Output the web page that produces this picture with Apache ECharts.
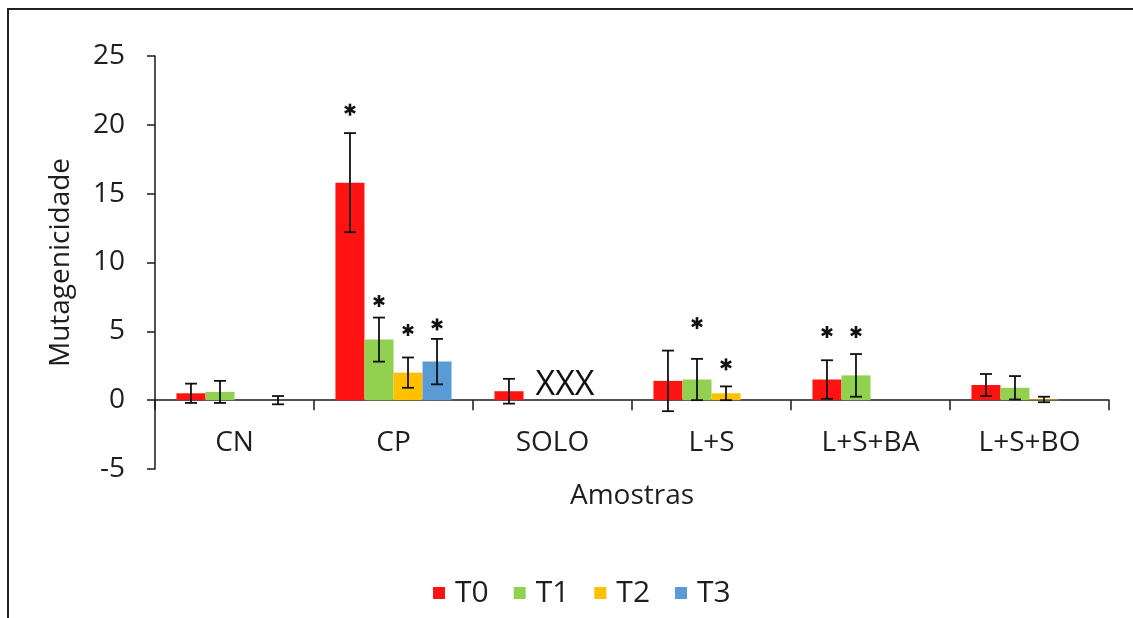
<!DOCTYPE html>
<html>
<head>
<meta charset="utf-8">
<script src="https://cdn.jsdelivr.net/npm/echarts@6/dist/echarts.min.js"></script>
<style>
html,body{margin:0;padding:0;background:#fff;}
#chart{width:1133px;height:618px;}
</style>
</head>
<body>
<div id="chart"></div>
<script>
// ---- data ----
const categories = ['CN', 'CP', 'SOLO', 'L+S', 'L+S+BA', 'L+S+BO'];
const seriesNames = ['T0', 'T1', 'T2', 'T3'];
const T0 = [0.5, 15.8, 0.65, 1.4, 1.5, 1.1];
const T1 = [0.6, 4.4, null, 1.5, 1.8, 0.9];
const T2 = [null, 2.0, null, 0.5, null, 0.05];
const T3 = [0, 2.8, null, null, null, null];
const T0err = [0.7, 3.6, 0.9, 2.2, 1.4, 0.8];
const T1err = [0.8, 1.6, null, 1.5, 1.55, 0.85];
const T2err = [null, 1.1, null, 0.5, null, 0.2];
const T3err = [0.3, 1.65, null, null, null, null];
// significance asterisk heights (value units)
const T0star = [null, 21.1, null, null, 4.95, null];
const T1star = [null, 7.2, null, 5.6, 4.95, null];
const T2star = [null, 5.1, null, 2.6, null, null];
const T3star = [null, 5.5, null, null, null, null];
const missingCategory = 'SOLO';
const missingText = 'XXX';
const yTicks = { min: -5, max: 25, interval: 5 };
const xName = 'Amostras';
const yName = 'Mutagenicidade';

// ---- styling ----
const colors = ['#ff1212', '#92d050', '#ffc000', '#5b9bd5'];
const FONT = '"Open Sans", sans-serif';
const TXT = '#1e1e1e';
const GAP = 0.27;

const values = [T0, T1, T2, T3];
const errs = [T0err, T1err, T2err, T3err];
const stars = [T0star, T1star, T2star, T3star];

const errData = [];
const starData = [];
for (let t = 0; t < 4; t++) {
  for (let c = 0; c < categories.length; c++) {
    if (values[t][c] != null && errs[t][c] != null) {
      errData.push([c, t, values[t][c], errs[t][c]]);
    }
    if (stars[t][c] != null) starData.push([c, t, stars[t][c]]);
  }
}

function offsetX(api, t) {
  const band = api.size([1, 0])[0];
  const bw = band * (1 - GAP) / 4;
  return (t - 1.5) * bw;
}

const chart = echarts.init(document.getElementById('chart'));
const barSeries = seriesNames.map((n, i) => ({
  name: n,
  type: 'bar',
  data: values[i],
  barGap: '0%',
  barCategoryGap: (GAP * 100) + '%',
  itemStyle: { color: colors[i] },
  z: 2
}));

const option = {
  animation: false,
  textStyle: { fontFamily: FONT, color: TXT },
  legend: {
    data: seriesNames,
    bottom: 5,
    left: 428,
    itemWidth: 12,
    itemHeight: 12,
    itemGap: 25,
    icon: 'rect',
    textStyle: { fontSize: 30, color: TXT, fontFamily: FONT, padding: [0, 0, 0, 5] }
  },
  grid: { left: 155, right: 24, top: 56, bottom: 149, containLabel: false },
  xAxis: {
    type: 'category',
    data: categories,
    name: xName,
    nameLocation: 'middle',
    nameGap: 13,
    nameTextStyle: { fontSize: 28, color: TXT, fontFamily: FONT },
    axisLine: { onZero: true, lineStyle: { color: '#1a1a1a', width: 1.5 } },
    axisTick: { show: true, length: 10, lineStyle: { color: '#1a1a1a', width: 1.5 } },
    axisLabel: { fontSize: 28, color: TXT, margin: -40, fontFamily: FONT },
    splitLine: { show: false }
  },
  yAxis: {
    type: 'value',
    min: yTicks.min,
    max: yTicks.max,
    interval: yTicks.interval,
    name: yName,
    nameLocation: 'middle',
    nameGap: 80,
    nameRotate: 90,
    nameTextStyle: { fontSize: 28, color: TXT, fontFamily: FONT },
    axisLine: { show: true, lineStyle: { color: '#1a1a1a', width: 1.5 } },
    axisTick: { show: true, length: 8, lineStyle: { color: '#1a1a1a', width: 1.5 } },
    axisLabel: { fontSize: 28, color: TXT, margin: 30, fontFamily: FONT },
    splitLine: { show: false }
  },
  graphic: [{
    type: 'polyline',
    shape: { points: [[8, 620], [8, 9], [1140, 9]] },
    style: { stroke: '#222', lineWidth: 2, fill: null },
    silent: true
  }],
  series: barSeries.concat([
    {
      type: 'custom',
      name: 'err',
      data: errData,
      encode: { x: 0, y: 2 },
      z: 5,
      silent: true,
      renderItem: function (params, api) {
        const c = api.value(0), t = api.value(1), v = api.value(2), e = api.value(3);
        const dx = offsetX(api, t);
        const top = api.coord([c, v + e]);
        const bot = api.coord([c, v - e]);
        const x = top[0] + dx;
        const hw = 6;
        const st = { stroke: '#111', lineWidth: 1.8 };
        return {
          type: 'group',
          children: [
            { type: 'line', shape: { x1: x, y1: top[1], x2: x, y2: bot[1] }, style: st },
            { type: 'line', shape: { x1: x - hw, y1: top[1], x2: x + hw, y2: top[1] }, style: st },
            { type: 'line', shape: { x1: x - hw, y1: bot[1], x2: x + hw, y2: bot[1] }, style: st }
          ]
        };
      }
    },
    {
      type: 'custom',
      name: 'sig',
      data: starData,
      encode: { x: 0, y: 2 },
      z: 5,
      silent: true,
      renderItem: function (params, api) {
        const c = api.value(0), t = api.value(1), y = api.value(2);
        const p = api.coord([c, y]);
        const x = p[0] + offsetX(api, t);
        const r = 6;
        const st = { stroke: '#111', lineWidth: 2.6 };
        const kids = [];
        for (let k = 0; k < 3; k++) {
          const a = Math.PI / 2 + k * Math.PI / 3;
          kids.push({ type: 'line', shape: { x1: x - r * Math.cos(a), y1: p[1] - r * Math.sin(a), x2: x + r * Math.cos(a), y2: p[1] + r * Math.sin(a) }, style: st });
        }
        return { type: 'group', children: kids };
      }
    },
    {
      type: 'custom',
      name: 'missing',
      data: [[categories.indexOf(missingCategory), 2, 0]],
      encode: { x: 0, y: 2 },
      z: 5,
      silent: true,
      renderItem: function (params, api) {
        const c = api.value(0), t = api.value(1);
        const p = api.coord([c, api.value(2)]);
        return {
          type: 'text',
          style: {
            x: p[0] + offsetX(api, t) - 2,
            y: p[1] + 2,
            text: missingText,
            fontSize: 34,
            fontFamily: FONT,
            fill: '#111',
            align: 'center',
            verticalAlign: 'bottom'
          }
        };
      }
    }
  ])
};
chart.setOption(option);
</script>
</body>
</html>
